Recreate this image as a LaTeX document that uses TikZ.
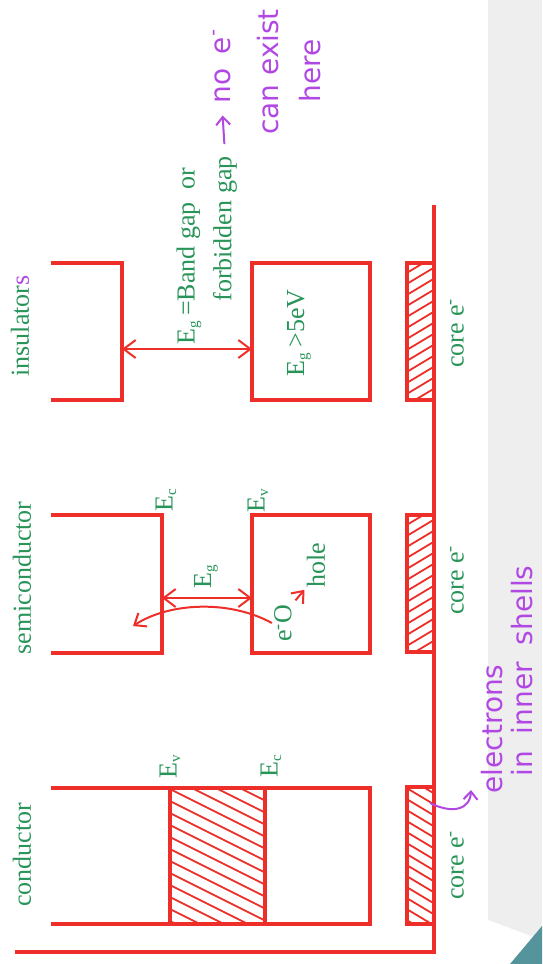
\documentclass[tikz,border=0pt]{standalone}
\usepackage{fontspec}
\setmainfont{Liberation Serif}
\newfontfamily\handfont{DejaVu Sans}
\usepackage{tikz}
\usetikzlibrary{arrows.meta, positioning}
\definecolor{bandred}{RGB}{238,46,40}
\definecolor{labelgreen}{RGB}{40,148,88}
\definecolor{handpurple}{RGB}{178,72,228}
\definecolor{slidegray}{RGB}{238,238,238}
\definecolor{slideteal}{RGB}{86,148,156}
\tikzset{
  band/.style={draw=bandred, line width=1.6pt},
  hatch/.style={draw=bandred, line width=0.9pt},
  gaparrow/.style={draw=bandred, line width=1pt,
                   {Straight Barb[length=6pt,width=9pt]}-{Straight Barb[length=6pt,width=9pt]}},
  jumparrow/.style={draw=bandred, line width=1pt,
                    -{Straight Barb[length=5pt,width=8pt]}},
  lbl/.style={rotate=90, text=labelgreen, inner sep=1pt,
              font=\fontsize{13}{15}\selectfont},
  hand/.style={rotate=90, text=handpurple, inner sep=1pt,
               font=\handfont\fontsize{14}{16}\selectfont},
  handarrow/.style={draw=handpurple, line width=1pt,
                    -{Straight Barb[length=4pt,width=7pt]}},
}
%% hatched filling: corner, corner, rise per 100, spacing
\newcommand{\hatchfill}[6]{%
  \begin{scope}
    \clip (#1,#2) rectangle (#3,#4);
    \foreach \k in {-8,...,20}
      \draw[hatch] ({#1-2},{#2+\k*#6}) -- ++(120,{1.2*#5});
  \end{scope}}
%% small subscript of the band labels
\newcommand{\bsub}[1]{\textsubscript{\fontsize{7.5}{8}\selectfont #1}}

\begin{document}
\begin{tikzpicture}[x=0.5pt, y=-0.5pt]
    \useasboundingbox (0,0) rectangle (542,964);

    %% slide background
    \fill[slidegray] (488,0) rectangle (542,964);
    \fill[white] (488,920) -- (542,940) -- (542,964) -- (488,964) -- cycle;
    \fill[slideteal] (510,964) -- (542,926) -- (542,964) -- cycle;

    %% energy axis
    \draw[band] (15,952) -- (434,952) -- (434,205);

    %% core levels
    \hatchfill{407}{787}{434}{924}{60}{11}
    \hatchfill{407}{515}{434}{652}{-60}{11}
    \hatchfill{407}{263}{434}{400}{-60}{11}
    \draw[band] (407,787) rectangle (434,924);
    \draw[band] (407,515) rectangle (434,652);
    \draw[band] (407,263) rectangle (434,400);

    %% conductor bands
    \hatchfill{170}{788}{265}{924}{50}{12}
    \draw[band] (51,788) -- (370,788) -- (370,924) -- (51,924);
    \draw[band] (170,788) -- (170,924) (265,788) -- (265,924);

    %% semiconductor bands
    \draw[band] (51,515) -- (162,515) -- (162,653) -- (51,653);
    \draw[band] (252,515) rectangle (370,653);

    %% insulator bands
    \draw[band] (51,263) -- (122,263) -- (122,400) -- (51,400);
    \draw[band] (252,263) rectangle (370,400);

    %% band edges
    \coordinate (scEc) at (162,598);
    \coordinate (scEv) at (252,598);
    \coordinate (inEc) at (122,349);
    \coordinate (inEv) at (252,349);
    \coordinate (cbTip) at (133,626);
    \coordinate (hookS) at (430,803);
    \coordinate (hookE) at (471,790);

    %% green labels
    \node[lbl] (cond) at (22,855) {conductor};
    \node[lbl] (semi) at (22,578) {semiconductor};
    \node[lbl] (insu) at (20,326) {insulator\textcolor{handpurple}{s}};
    \node[lbl] (cEv) at (170,766) {E\bsub{v}};
    \node[lbl] (cEc) at (271,766) {E\bsub{c}};
    \node[lbl] (sEc) at (166,500) {E\bsub{c}};
    \node[lbl] (sEv) at (258,500) {E\bsub{v}};
    \node[lbl] (sEg) at (206,576) {E\bsub{g}};
    \node[lbl] (eO) at (283,623) {e\textsuperscript{-}O};
    \node[lbl] (hole) at (316,565) {hole};
    \node[lbl] (iEg) at (299,333) {E\bsub{g}\,>5eV};
    \node[lbl] (bandgap) at (189,256) {E\bsub{g}\,=Band gap\enspace or};
    \node[lbl] (forbid) at (225,229) {forbidden gap};
    \node[lbl] (coreC) at (457,865) {core e\textsuperscript{-}};
    \node[lbl] (coreS) at (457,580) {core e\textsuperscript{-}};
    \node[lbl] (coreI) at (457,333) {core e\textsuperscript{-}};

    %% handwritten notes
    \node[hand] (noe) at (222,66) {no\hspace{0.5em}e\textsuperscript{-}};
    \node[hand] (canex) at (268,72) {can exist};
    \node[hand] (here) at (310,71) {here};
    \node[hand] (elec) at (492,729) {electrons};
    \node[hand] (inner) at (522,671) {in\hspace{0.6em}inner\hspace{0.6em}shells};

    %% arrows
    \draw[gaparrow] (scEc) -- (scEv);
    \draw[gaparrow] (inEc) -- (inEv);
    \draw[jumparrow] (eO.north) .. controls (230,600) and (170,602) .. (cbTip);
    \draw[jumparrow, shorten <=1pt] (eO.south east) -- (hole.north west);
    \draw[handarrow, shorten <=5pt, shorten >=5pt] (forbid.east) -- (noe.west);
    \draw[handarrow] (hookS) .. controls (452,814) and (470,810) .. (hookE);
\end{tikzpicture}
\end{document}
